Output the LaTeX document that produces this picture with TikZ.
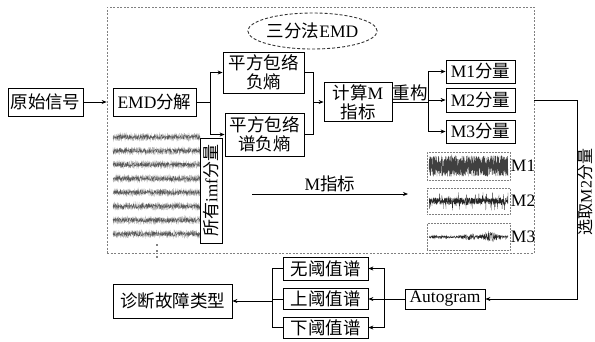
\documentclass[tikz,border=0pt]{standalone}
\usepackage{fontspec}
\setmainfont{Liberation Serif}
\newfontfamily\cjk{Noto Sans CJK SC}
\usetikzlibrary{arrows.meta,shapes.geometric}
\newcommand{\zh}[1]{{\cjk #1}}
\begin{document}
\begin{tikzpicture}[x=1pt,y=-1pt,
  bx/.style={draw, line width=0.8pt, inner sep=0pt, align=center, font=\fontsize{17.5}{19}\selectfont},
  lbl/.style={inner sep=1pt, font=\fontsize{17.5}{19}\selectfont},
  arr/.style={-{Stealth[length=5pt,width=4pt]}, line width=0.8pt},
  ln/.style={line width=0.8pt},
  thumb/.style={draw=gray, densely dotted, line width=0.5pt},
  sig/.style={line width=0.3pt},
]
\useasboundingbox (0,0) rectangle (595,341);
% outer dashed frame
\node[draw=gray, dash pattern=on 2pt off 1.5pt, line width=0.6pt, minimum width=427, minimum height=246, inner sep=0pt] (frame) at (320.5,130) {};
\node[ellipse, draw=black!80, densely dashed, line width=0.9pt, minimum width=109, minimum height=36, inner sep=0pt, font=\fontsize{17.5}{19}\selectfont] (tri) at (312.5,31) {\zh{三分法}EMD};
% boxes
\node[bx, minimum width=75, minimum height=28] (src) at (45.5,102) {\zh{原始信号}};
\node[bx, minimum width=83, minimum height=28] (emd) at (154.5,102) {EMD\zh{分解}};
\node[bx, minimum width=81, minimum height=41] (pf1) at (263.5,72.5) {\zh{平方包络}\\\zh{负熵}};
\node[bx, minimum width=79, minimum height=43] (pf2) at (264.5,134.5) {\zh{平方包络}\\\zh{谱负熵}};
\node[bx, minimum width=68, minimum height=39] (calc) at (358,102) {\zh{计算}M\\\zh{指标}};
\node[bx, minimum width=69, minimum height=23] (m1) at (480.5,71.5) {M1\zh{分量}};
\node[bx, minimum width=69, minimum height=24] (m2) at (480.5,100) {M2\zh{分量}};
\node[bx, minimum width=69, minimum height=23] (m3) at (480.5,131.5) {M3\zh{分量}};
\node[bx, minimum width=80, minimum height=20] (auto) at (445,299) {Autogram};
\node[bx, minimum width=85, minimum height=23] (t1) at (325.5,268.5) {\zh{无阈值谱}};
\node[bx, minimum width=85, minimum height=21] (t2) at (325.5,299) {\zh{上阈值谱}};
\node[bx, minimum width=85, minimum height=21] (t3) at (325.5,327.5) {\zh{下阈值谱}};
\node[bx, minimum width=119, minimum height=34] (diag) at (172.5,301) {\zh{诊断故障类型}};
% connectors
\draw[arr] (src.east) -- (frame.west |- src.east);
\draw[ln] (emd.east) -- ++(14,0) coordinate (j1);
\draw[arr] (j1) |- (pf1.west);
\draw[arr] (j1) |- (pf2.west);
\coordinate (j2) at (313,102);
\draw[ln] (pf1.east) -| (j2);
\draw[ln] (pf2.east) -| (j2);
\draw[arr] (j2) -- (calc.west);
\coordinate (j3) at (428,102);
\draw[ln] (calc.east) -- node[lbl, above] (rc) {\zh{重构}} (j3);
\draw[arr] (j3) |- (m1.west);
\draw[arr] (j3) |- (m2.west);
\draw[arr] (j3) |- (m3.west);
\coordinate (j6) at (577,100);
\draw[arr] (frame.east |- m2.east) -- (j6) |- (auto.east);
\node[inner sep=0pt, rotate=90, font=\fontsize{16}{18}\selectfont] (sel) at (585.5,192) {\zh{选取}M2\zh{分量}};
\coordinate (j4) at (384,299);
\draw[ln] (auto.west) -- (j4);
\draw[arr] (j4) |- (t1.east);
\draw[arr] (j4) |- (t2.east);
\draw[arr] (j4) |- (t3.east);
\coordinate (j5) at (272,301);
\draw[ln] (t1.west) -| (j5);
\draw[ln] (t2.west) -| (j5);
\draw[ln] (t3.west) -| (j5);
\draw[arr] (j5) -- (diag.east);
% M index arrow
\coordinate (ma) at (252,194);
\coordinate (mb) at (408,194);
\draw[arr] (ma) -- node[lbl, above=1pt] (mi) {M\zh{指标}} (mb);
% imf strips
\pgfmathsetseed{7}
\foreach \k in {0,...,7}{
  \pgfmathsetmacro{\cy}{137+13.86*\k}
  \draw[sig, gray!55] plot[domain=113:200, samples=420] (\x, {\cy + 4*rand});
  \draw[sig, black!65] plot[domain=113:200, samples=300] (\x, {\cy + 2.2*rand});
}
\node[draw, line width=0.5pt, minimum width=22, minimum height=105, inner sep=0pt] (imfbox) at (211,190.5) {};
\node[inner sep=0pt, rotate=90, font=\fontsize{17}{19}\selectfont] (imf) at (211,190.5) {\zh{所有}imf\zh{分量}};
\foreach \yy in {245,251,257}{ \fill (157,\yy) circle (0.9pt); }
% M thumbnails
\node[thumb, minimum width=83, minimum height=28, inner sep=0pt] (b1) at (468.5,166) {};
\node[thumb, minimum width=83, minimum height=26, inner sep=0pt] (b2) at (468.5,201) {};
\node[thumb, minimum width=83, minimum height=27, inner sep=0pt] (b3) at (468.5,236.5) {};
\draw[sig, black!75] plot[domain=429:508, samples=900] (\x, {166 + 10.5*rand});
\draw[sig, black!85] plot[domain=429:508, samples=500] (\x, {201 + rand*(3.5 + 6*(rnd>0.85))});
\draw[sig, black!85] plot[domain=429:508, samples=350] (\x, {237 + rand*(1.3 + 4*exp(-((\x-490)/7)^2) + 2*exp(-((\x-470)/5)^2))});
\node[lbl, anchor=west, inner sep=0.5pt] (l1) at (b1.east) {M1};
\node[lbl, anchor=west, inner sep=0.5pt] (l2) at (b2.east) {M2};
\node[lbl, anchor=west, inner sep=0.5pt] (l3) at (b3.east) {M3};
\end{tikzpicture}
\end{document}
